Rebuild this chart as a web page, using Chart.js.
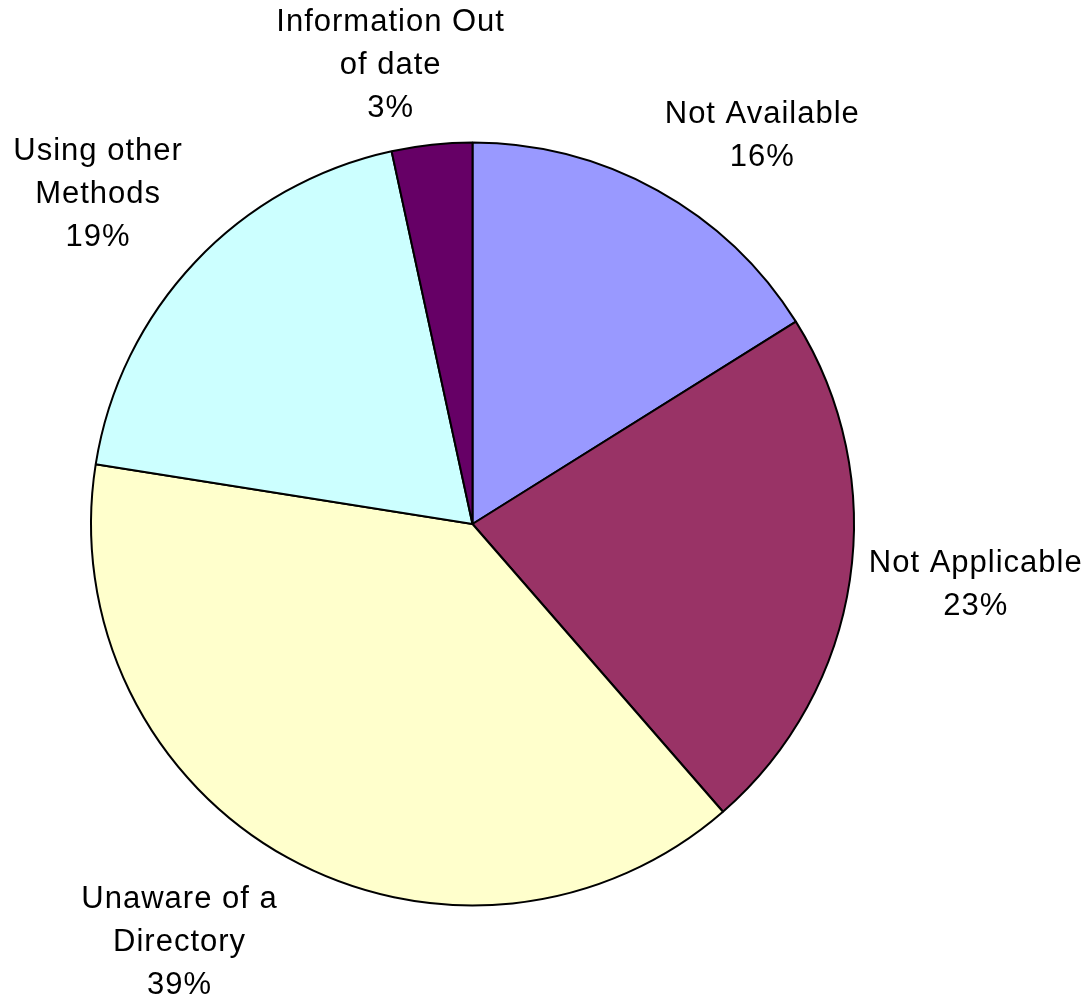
<!DOCTYPE html>
<html>
<head>
<meta charset="utf-8">
<script src="https://cdn.jsdelivr.net/npm/chart.js@4/dist/chart.umd.min.js"></script>
<style>
html,body{margin:0;padding:0;background:#fff;}
#wrap{width:1087px;height:999px;position:relative;}
</style>
</head>
<body>
<div id="wrap"><canvas id="c" width="1087" height="999"></canvas></div>
<script>
const categories = [["Not Available"], ["Not Applicable"], ["Unaware of a", "Directory"], ["Using other", "Methods"], ["Information Out", "of date"]];
const values = [16.1, 22.5, 38.9, 19.1, 3.4];
const colors = ["#9999FF", "#993366", "#FFFFCC", "#CCFFFF", "#660066"];
// label placement: angle tweak (deg) and distance from centre (px)
const labelPlace = [[7.8, 484], [-1.5, 507], [6, 511], [-2, 499], [-4, 466]];

const labelPlugin = {
  id: 'outLabels',
  afterDatasetsDraw(chart) {
    const ctx = chart.ctx;
    const meta = chart.getDatasetMeta(0);
    const total = values.reduce((a, b) => a + b, 0);
    ctx.save();
    ctx.font = '31px "Liberation Sans", Arial, sans-serif';
    if ('letterSpacing' in ctx) ctx.letterSpacing = '1px';
    ctx.fillStyle = '#000';
    ctx.textAlign = 'center';
    ctx.textBaseline = 'middle';
    const lh = 43;
    meta.data.forEach((arc, i) => {
      const mid = (arc.startAngle + arc.endAngle) / 2 + labelPlace[i][0] * Math.PI / 180;
      const d = labelPlace[i][1];
      const cx = arc.x + Math.cos(mid) * d;
      const cy = arc.y + Math.sin(mid) * d;
      const lines = categories[i].concat([Math.round(values[i] / total * 100) + '%']);
      const y0 = cy - (lines.length - 1) * lh / 2;
      lines.forEach((t, k) => ctx.fillText(t, cx, y0 + k * lh));
    });
    ctx.restore();
  }
};

new Chart(document.getElementById('c'), {
  type: 'pie',
  data: {
    labels: categories.map(c => c.join(' ')),
    datasets: [{
      data: values,
      backgroundColor: colors,
      borderColor: '#000',
      borderWidth: 2,
      borderAlign: 'center',
      hoverOffset: 0
    }]
  },
  options: {
    responsive: false,
    animation: false,
    layout: { padding: { left: 90, right: 232, top: 141, bottom: 92 } },
    plugins: { legend: { display: false }, tooltip: { enabled: false } }
  },
  plugins: [labelPlugin]
});
</script>
</body>
</html>
